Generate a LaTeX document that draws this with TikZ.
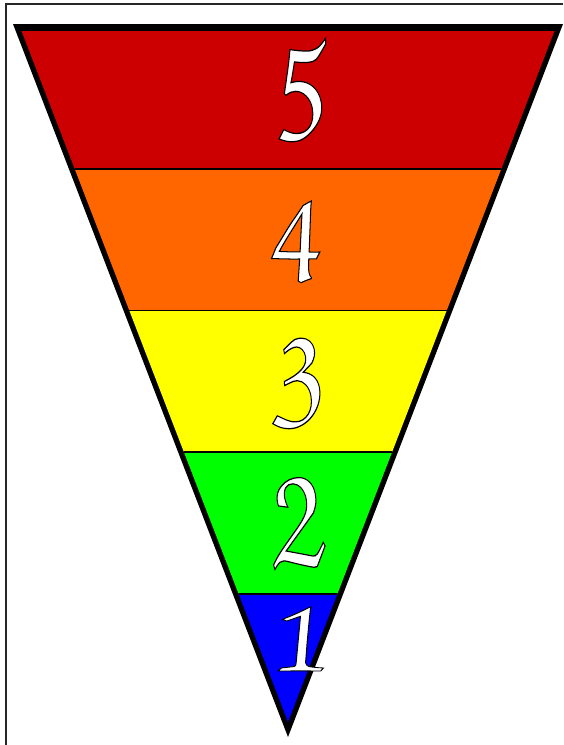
\documentclass[tikz,border=0pt]{standalone}
\usepackage[T1]{fontenc}
\definecolor{cRed}{HTML}{CC0000}
\definecolor{cOrange}{HTML}{FF6600}
\definecolor{cYellow}{HTML}{FFFF00}
\definecolor{cGreen}{HTML}{00FF00}
\definecolor{cBlue}{HTML}{0000FF}
\newcommand{\outl}[1]{\special{pdf:literal direct 2 Tr 1 w 0 0 0 RG}#1\special{pdf:literal direct 0 Tr}}
\begin{document}
\begin{tikzpicture}[x=1pt,y=-1pt,
  num/.style={inner sep=0pt, text=white, anchor=center, transform shape, xslant=-0.18,
    font=\fontfamily{pzc}\fontsize{130}{130}\selectfont},
  sep/.style={line width=1.6pt, black}]
\useasboundingbox (0,0) rectangle (563,745);
\fill[white] (0,0) rectangle (563,745);
\draw[line width=1.2pt, black!85] (6,745) -- (6,4) -- (563,4);
\coordinate (TL) at (13,24);
\coordinate (TR) at (563,24);
\coordinate (AP) at (288,737);
\fill[black] (TL) -- (TR) -- (AP) -- cycle;
\begin{scope}
\clip (21.5,31) -- (554.5,31) -- (288,722) -- cycle;
\fill[cRed] (0,31) rectangle (563,169);
\fill[cOrange] (0,169) rectangle (563,310.5);
\fill[cYellow] (0,310.5) rectangle (563,452);
\fill[cGreen] (0,452) rectangle (563,594);
\fill[cBlue] (0,594) rectangle (563,740);
\draw[sep] (0,169) -- (563,169);
\draw[sep] (0,310.5) -- (563,310.5);
\draw[sep] (0,452) -- (563,452);
\draw[sep] (0,594) -- (563,594);
\end{scope}
\node[num, yscale=1.23] (n5) at (290,89) {\outl{5}};
\node[num, yscale=1.03] (n4) at (288,241) {\outl{4}};
\node[num, yscale=1.2] (n3) at (289,381) {\outl{3}};
\node[num, yscale=1.2] (n2) at (288,520) {\outl{2}};
\node[num, yscale=0.85] (n1) at (290,637) {\outl{1}};
\end{tikzpicture}
\end{document}
